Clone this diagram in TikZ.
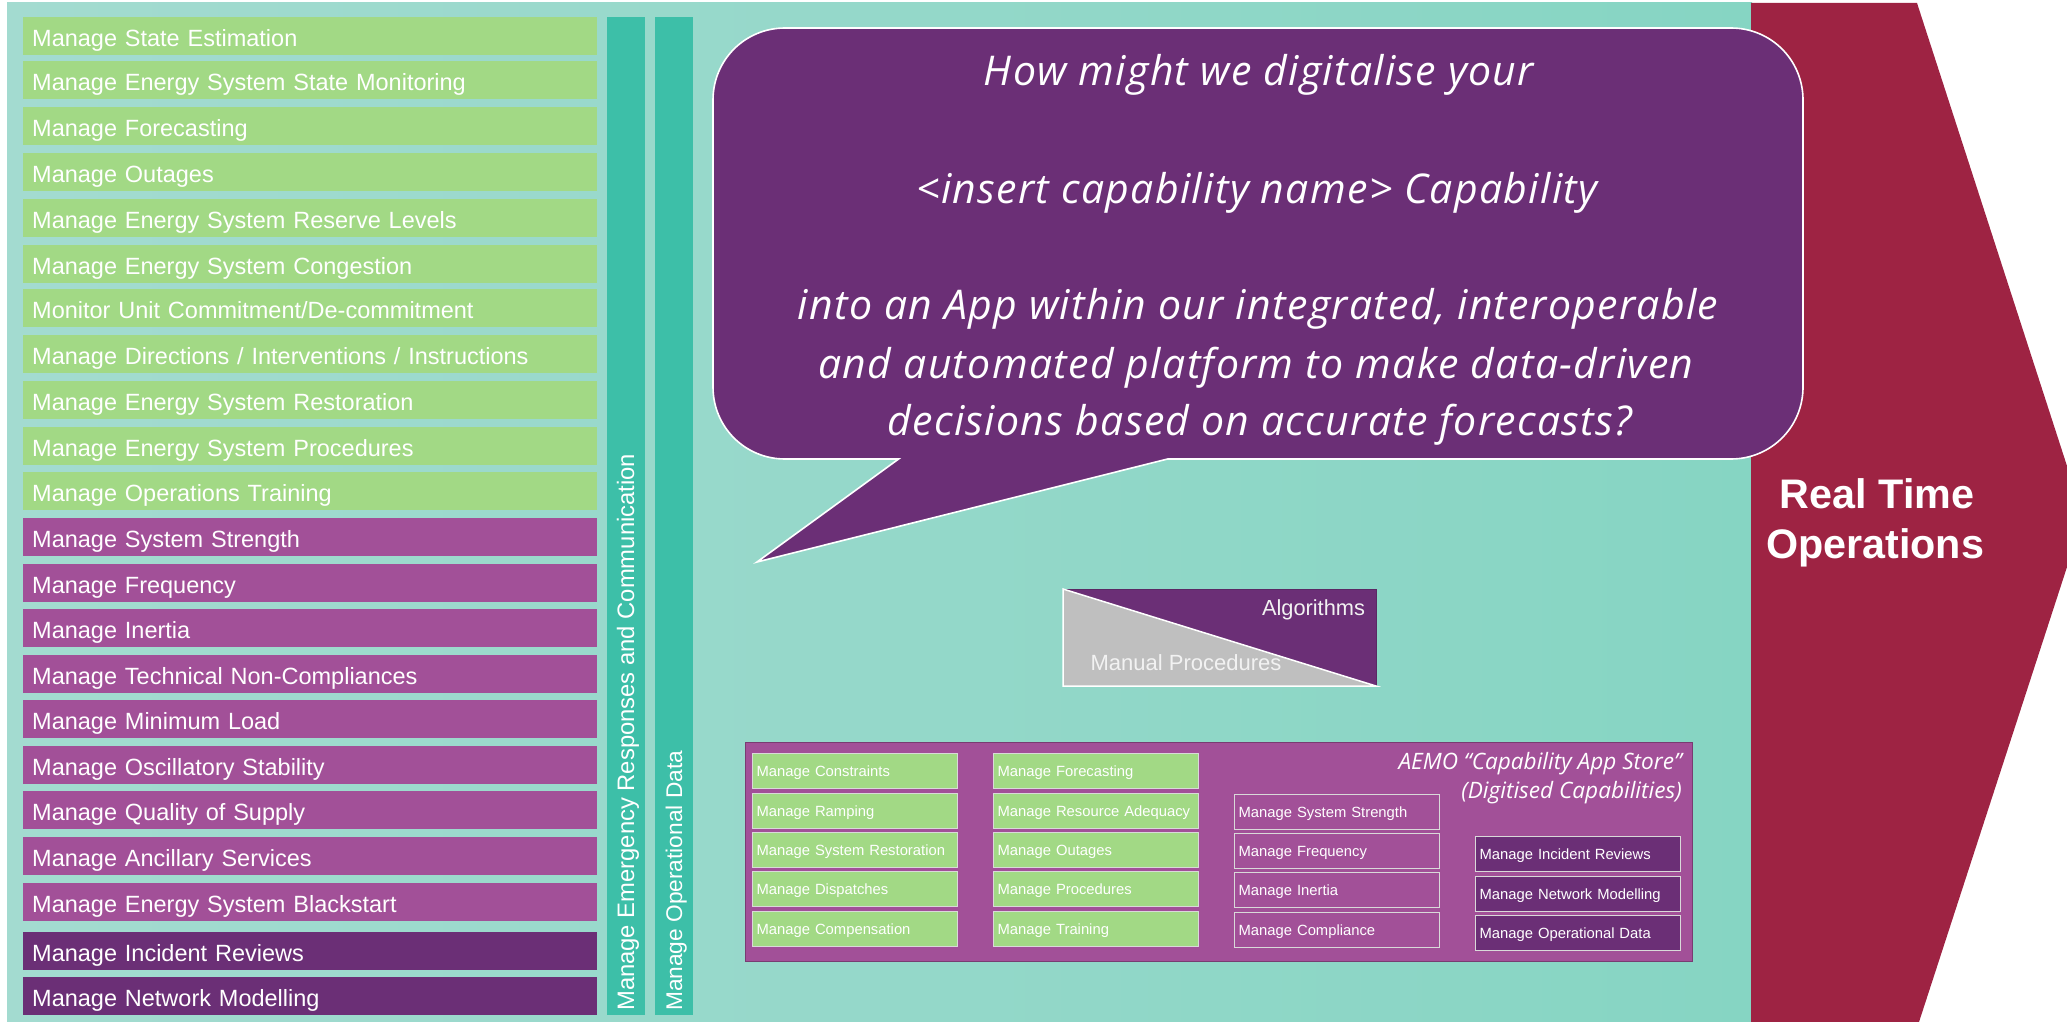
\documentclass[tikz,border=0pt]{standalone}
\usepackage{fontspec}
\setmainfont{Liberation Sans}
\newfontfamily\bubblefont[LetterSpace=3.2]{Open Sans}
\newfontfamily\storefont{Open Sans}
\usetikzlibrary{shadings}
\definecolor{bgL}{RGB}{163,219,208}
\definecolor{bgR}{RGB}{134,213,195}
\definecolor{leaf}{RGB}{162,217,133}
\definecolor{plum}{RGB}{162,80,152}
\definecolor{grape}{RGB}{107,47,118}
\definecolor{teal}{RGB}{61,191,168}
\definecolor{wine}{RGB}{158,35,67}
\definecolor{silver}{RGB}{191,191,191}
\definecolor{soft}{RGB}{242,242,242}
\tikzset{
  rowbar/.style={anchor=north west,inner ysep=0pt,inner xsep=9pt,text width=556pt,text height=29.5pt,text depth=8.5pt,align=left,text=white,font=\fontsize{23.5}{26}\selectfont},
  vbar/.style={anchor=north west,minimum width=38pt,minimum height=998pt,inner sep=0pt,fill=teal},
  vtext/.style={rotate=90,anchor=base west,text=white,inner sep=0pt},
  appbox/.style={anchor=north west,draw=white!85!black,line width=1.3pt,inner ysep=0pt,inner xsep=4pt,text width=197pt,text height=23pt,text depth=12pt,align=left,text=white,font=\fontsize{14.8}{16}\selectfont},
  bubbleline/.style={anchor=base,text=white,inner sep=0pt,font=\bubblefont\itshape\fontsize{41}{44}\selectfont},
  titleline/.style={anchor=base east,text=white,inner sep=0pt,font=\storefont\itshape\fontsize{22.6}{25}\selectfont},
  plainlabel/.style={inner sep=0pt,anchor=base},
}
\begin{document}
\begin{tikzpicture}[x=1pt,y=-1pt]
\useasboundingbox (0,0) rectangle (2067,1022);
\clip (0,0) rectangle (2067,1022);
% background
\shade[left color=bgL,right color=bgR] (7,3) rectangle (1752,1022);
% chevron
\fill[wine] (1751,3) -- (1917,3) -- (2067,466) -- (2100,516) -- (2067,567) -- (1919,1022) -- (1751,1022) -- cycle;
% list rows
\foreach \nm/\tp/\col/\txt in {
 r1/17/leaf/{Manage State Estimation},
 r2/61/leaf/{Manage Energy System State Monitoring},
 r3/107/leaf/{Manage Forecasting},
 r4/153/leaf/{Manage Outages},
 r5/199/leaf/{Manage Energy System Reserve Levels},
 r6/245/leaf/{Manage Energy System Congestion},
 r7/289/leaf/{Monitor Unit Commitment/De-commitment},
 r8/335/leaf/{Manage Directions / Interventions / Instructions},
 r9/381/leaf/{Manage Energy System Restoration},
 r10/427/leaf/{Manage Energy System Procedures},
 r11/472/leaf/{Manage Operations Training},
 r12/518/plum/{Manage System Strength},
 r13/564/plum/{Manage Frequency},
 r14/609/plum/{Manage Inertia},
 r15/655/plum/{Manage Technical Non-Compliances},
 r16/700/plum/{Manage Minimum Load},
 r17/746/plum/{Manage Oscillatory Stability},
 r18/791/plum/{Manage Quality of Supply},
 r19/837/plum/{Manage Ancillary Services},
 r20/883/plum/{Manage Energy System Blackstart},
 r21/932/grape/{Manage Incident Reviews},
 r22/977/grape/{Manage Network Modelling}}
{ \node[rowbar,fill=\col] (\nm) at (23,\tp) {\txt}; }
% vertical bars
\node[vbar] (v1) at (607,17) {};
\node[vbar] (v2) at (655,17) {};
\node[vtext,font=\fontsize{23.8}{26}\selectfont] (v1t) at (634,1011) {Manage Emergency Responses and Communication};
\node[vtext,font=\fontsize{22.7}{25}\selectfont] (v2t) at (682,1011) {Manage Operational Data};
% bubble
\draw[fill=grape,draw=white,line width=1.6pt,line join=miter]
 (785,28) -- (1731,28) .. controls (1771,28) and (1803,60) .. (1803,100)
 -- (1803,387) .. controls (1803,427) and (1771,459) .. (1731,459)
 -- (1167.6,459) -- (757,562) -- (898.6,459) -- (785,459)
 .. controls (745,459) and (713,427) .. (713,387)
 -- (713,100) .. controls (713,60) and (745,28) .. (785,28) -- cycle;
\node[bubbleline] (b1) at (1259,86) {How might we digitalise your};
\node[bubbleline] (b2) at (1257,204) {<insert capability name> Capability};
\node[bubbleline] (b3) at (1258,319) {into an App within our integrated, interoperable};
\node[bubbleline] (b4) at (1256,378) {and automated platform to make data-driven};
\node[bubbleline] (b5) at (1260,435) {decisions based on accurate forecasts?};
% Real time
\node[plainlabel,text=white,font=\bfseries\fontsize{41.3}{44}\selectfont] (rt1) at (1877,508) {Real Time};
\node[plainlabel,text=white,font=\bfseries\fontsize{41.3}{44}\selectfont] (rt2) at (1875,558) {Operations};
% split box
\fill[grape] (1063,589) -- (1376,589) -- (1376,686) -- cycle;
\draw[grape!85!black,line width=1pt] (1063,589) -- (1376,589) -- (1376,686);
\draw[fill=silver,draw=white,line width=1.5pt,line join=miter] (1063,589) -- (1376,686) -- (1063,686) -- cycle;
\node[plainlabel,text=soft,font=\fontsize{21.8}{24}\selectfont] (alg) at (1313.5,615) {Algorithms};
\node[plainlabel,text=soft,font=\fontsize{22}{24}\selectfont] (man) at (1186,670) {Manual Procedures};
% app store
\node[anchor=north west,minimum width=947pt,minimum height=219pt,inner sep=0pt,fill=plum,draw=plum!75!black,line width=1pt] (store) at (745,741.7) {};
\node[titleline] (st1) at (1682,769) {AEMO “Capability App Store”};
\node[titleline] (st2) at (1682,798) {(Digitised Capabilities)};
\foreach \nm/\xx/\tp/\col/\txt in {
 a1/752/753/leaf/{Manage Constraints},
 a2/752/793/leaf/{Manage Ramping},
 a3/752/832/leaf/{Manage System Restoration},
 a4/752/871/leaf/{Manage Dispatches},
 a5/752/911/leaf/{Manage Compensation},
 c1/993/753/leaf/{Manage Forecasting},
 c2/993/793/leaf/{Manage Resource Adequacy},
 c3/993/832/leaf/{Manage Outages},
 c4/993/871/leaf/{Manage Procedures},
 c5/993/911/leaf/{Manage Training},
 d1/1234/794/plum/{Manage System Strength},
 d2/1234/833/plum/{Manage Frequency},
 d3/1234/872/plum/{Manage Inertia},
 d4/1234/912/plum/{Manage Compliance},
 e1/1475/836/grape/{Manage Incident Reviews},
 e2/1475/876/grape/{Manage Network Modelling},
 e3/1475/915/grape/{Manage Operational Data}}
{ \node[appbox,fill=\col] (\nm) at (\xx,\tp) {\txt}; }
\end{tikzpicture}
\end{document}
